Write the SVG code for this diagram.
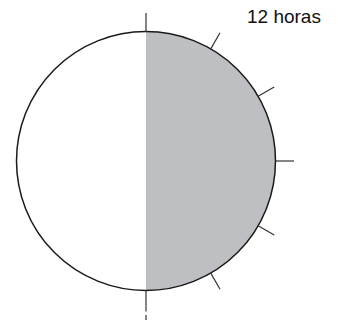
<svg xmlns="http://www.w3.org/2000/svg" width="338" height="320" viewBox="0 0 338 320">
<style>
.tick{stroke:#333;stroke-width:1.2;fill:none}
.outline{fill:none;stroke:#1a1a1a;stroke-width:1.5}
.lbl{font-family:"Liberation Sans",Arial,sans-serif;font-size:19px;fill:#111}
</style>
<rect width="338" height="320" fill="#fff"/>
<g id="clock">
<circle cx="146" cy="161" r="129.5" fill="#fff"/>
<path d="M146,31.5 A129.5,129.5 0 0 1 146,290.5 Z" fill="#bebfc3"/>
<circle class="outline" cx="146" cy="161" r="129.5"/>
</g>
<g id="ticks">
<line class="tick" x1="146" y1="31.5" x2="146" y2="13"/>
<line class="tick" x1="210.75" y1="48.85" x2="220" y2="32.8"/>
<line class="tick" x1="258.1" y1="96.25" x2="274.2" y2="87"/>
<line class="tick" x1="275.5" y1="161" x2="294" y2="161"/>
<line class="tick" x1="258.1" y1="225.75" x2="274.2" y2="235"/>
<line class="tick" x1="210.75" y1="273.15" x2="220" y2="289.2"/>
<line class="tick" x1="146" y1="290.5" x2="146" y2="320" stroke-dasharray="21 3.5 10"/>
</g>
<text class="lbl" x="247" y="22.5">12 horas</text>
</svg>
